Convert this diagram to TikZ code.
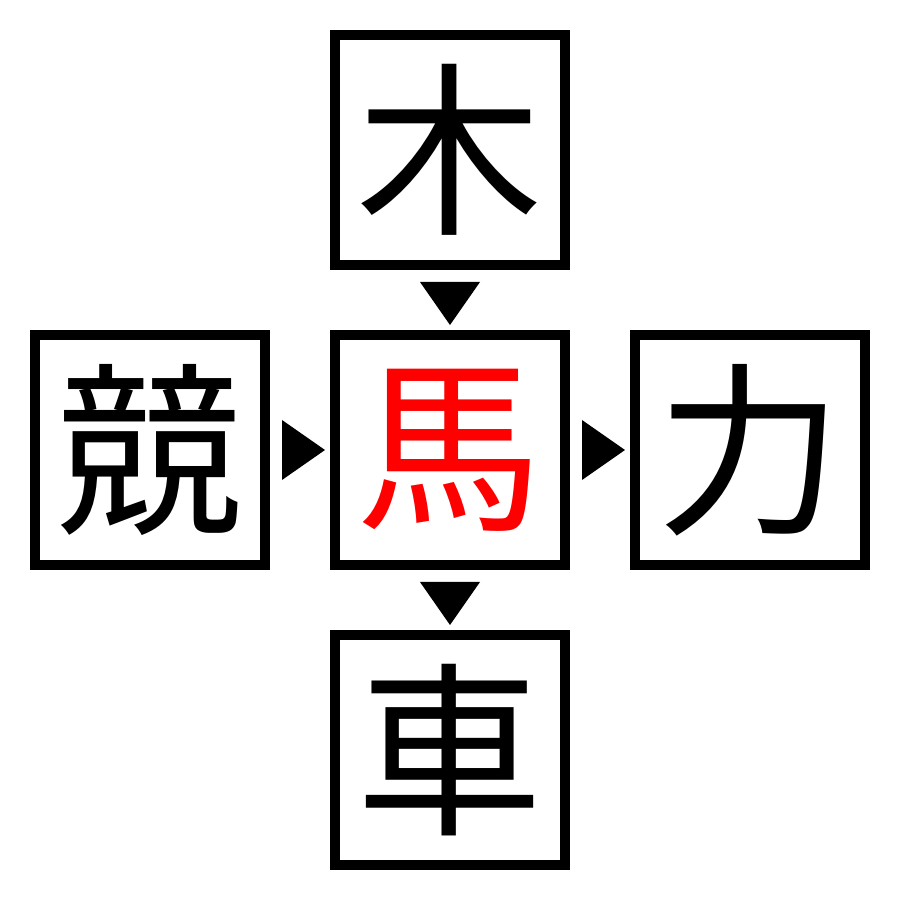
\documentclass[tikz,border=0pt]{standalone}
\usepackage{fontspec}
\newfontfamily\cjk{Noto Sans CJK JP}
\usepackage{tikz}
\tikzstyle{kanji} = [draw=black, line width=0.1cm, minimum size=2.3cm, inner sep=0pt, font={\cjk\fontsize{53}{53}\selectfont}]
\tikzstyle{focus} = [text=red]
\tikzstyle{tri} = [fill=black]
\begin{document}
\begin{tikzpicture}
        \useasboundingbox (0,0) rectangle (9,9);
        \node[kanji](ki) at (4.5,7.5){木};
        \node[kanji](kyou) at (1.5,4.5){競};
        \node[kanji,focus](uma) at (4.5,4.5){馬};
        \node[kanji](ryoku) at (7.5,4.5){力};
        \node[kanji](kuruma) at (4.5,1.5){車};
        \fill[tri](4.2,6.18)--(4.8,6.18)--(4.5,5.75)--cycle;
        \fill[tri](4.2,3.18)--(4.8,3.18)--(4.5,2.75)--cycle;
        \fill[tri](2.82,4.8)--(2.82,4.2)--(3.25,4.5)--cycle;
        \fill[tri](5.82,4.8)--(5.82,4.2)--(6.25,4.5)--cycle;
      \end{tikzpicture}
\end{document}
